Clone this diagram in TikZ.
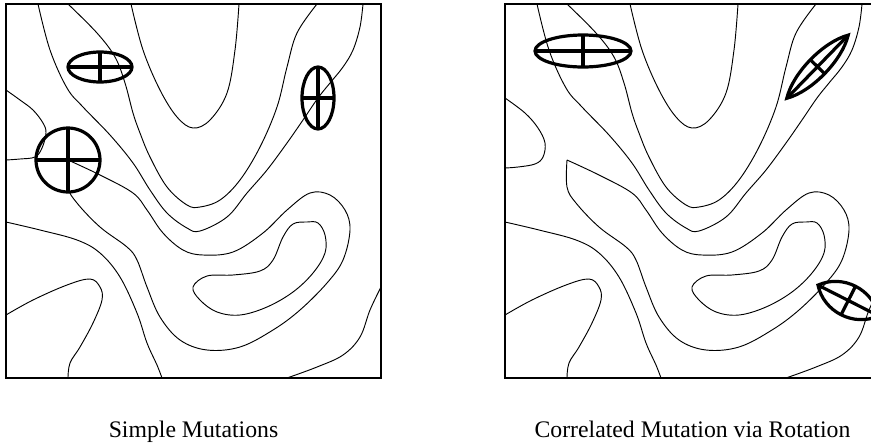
\documentclass[tikz,border=0pt]{standalone}
\usepackage{fontspec}
\setmainfont{Liberation Serif}
\begin{document}
\begin{tikzpicture}[x=0.75pt,y=-0.75pt,
  contour/.style={line width=0.7pt, black},
  frame/.style={line width=0.9pt, black},
  mut/.style={line width=2.4pt, black},
  caption/.style={font=\fontsize{17.8}{20}\selectfont, anchor=base, inner sep=0pt}]
\useasboundingbox (0,0) rectangle (871,447);
\clip (0,0) rectangle (871,447);
\newcommand\landscapecurves{%
  \draw[contour] plot[smooth, tension=0.6] coordinates {(131,4) (143,50) (160,90) (177,117) (193,128) (210,120) (227,93) (235,50) (239,4)};
  \draw[contour] plot[smooth, tension=0.6] coordinates {(68,4) (97,33) (115,57) (125,83) (133,113) (140,133) (150,157) (167,187) (187,205) (200,207) (220,200) (240,180) (260,147) (277,107) (287,67) (297,33) (317,4)};
  \draw[contour] plot[smooth, tension=0.6] coordinates {(38,4) (50,50) (67,88) (83,107) (110,135) (133,163) (150,190) (167,213) (187,228) (200,231) (227,217) (247,193) (267,170) (287,143) (303,120) (318,98) (330,83) (343,67) (353,50) (360,27) (363,4)};
  \draw[contour] plot[smooth, tension=0.6] coordinates {(68,160) (100,175) (133,193) (147,210) (163,233) (183,250) (203,255) (233,252) (263,233) (287,210) (310,193) (330,195) (345,210) (350,230) (343,260) (327,283) (300,310) (273,330) (240,347) (207,350) (180,340) (160,317) (147,287) (137,260) (127,247) (100,227) (77,203) (68,187) (68,160)};
  \draw[contour] plot[smooth cycle, tension=0.6] coordinates {(193,287) (207,276) (233,275) (260,271) (273,260) (283,237) (293,224) (307,222) (318,223) (325,235) (325,253) (313,273) (293,292) (267,307) (240,315) (217,312) (200,300)};
  \draw[contour] plot[smooth, tension=0.6] coordinates {(6,222) (40,230) (77,240) (100,253) (120,277) (137,313) (147,343) (157,365) (162,378)};
  \draw[contour] plot[smooth, tension=0.6] coordinates {(6,315) (33,300) (67,285) (90,279) (100,287) (102,300) (93,323) (80,347) (70,363) (68,378)};
  \draw[contour] plot[smooth, tension=0.6] coordinates {(287,378) (317,367) (343,355) (360,337) (370,310) (381,287)};
}
% ---- left panel
\begin{scope}
  \landscapecurves
  \draw[contour] plot[smooth, tension=0.6] coordinates {(6,90) (20,100) (33,110) (43,123) (46,133) (42,148) (35,157) (20,159) (6,160)};
  \draw[frame] (6,4) rectangle (381,378);
  \draw[mut] (100,67) ellipse [x radius=24pt, y radius=11.25pt];
  \draw[mut] (68,67) -- (132,67) (100,52) -- (100,82);
  \draw[mut] (318,98) ellipse [x radius=12pt, y radius=23.25pt];
  \draw[mut] (302,98) -- (334,98) (318,67) -- (318,129);
  \draw[mut] (68,160) circle [radius=24pt];
  \draw[mut] (36,160) -- (100,160) (68,128) -- (68,192);
\end{scope}
% ---- right panel
\begin{scope}[shift={(499,0)}]
  \landscapecurves
  \draw[contour] plot[smooth, tension=0.6] coordinates {(6,98) (26,113) (39,128) (46,143) (44,157) (36,164) (19,167) (6,168)};
  \draw[frame] (6,4) rectangle (381,378);
\end{scope}
\draw[mut] (583,51) ellipse [x radius=36pt, y radius=12pt];
\draw[mut] (535,51) -- (631,51) (583,35) -- (583,67);
\begin{scope}[shift={(817.5,66.7)}, rotate=45.8]
  \draw[mut, line join=miter] (-44,0) .. controls (-22,13.3) and (22,13.3) .. (44,0) .. controls (22,-13.3) and (-22,-13.3) .. (-44,0) -- cycle;
  \draw[mut] (-44,0) -- (44,0) (0,-10) -- (0,10);
\end{scope}
\begin{scope}[shift={(848.3,300.5)}, rotate=-26.9]
  \draw[mut, line join=miter] (-34,0) .. controls (-17,21.3) and (17,21.3) .. (34,0) .. controls (17,-21.3) and (-17,-21.3) .. (-34,0) -- cycle;
  \draw[mut] (-34,0) -- (34,0) (0,-16) -- (0,16);
\end{scope}
\node[caption] (simple) at (193.5,437) {Simple Mutations};
\node[caption] (corr) at (692.5,437) {Correlated Mutation via Rotation};
\end{tikzpicture}
\end{document}
